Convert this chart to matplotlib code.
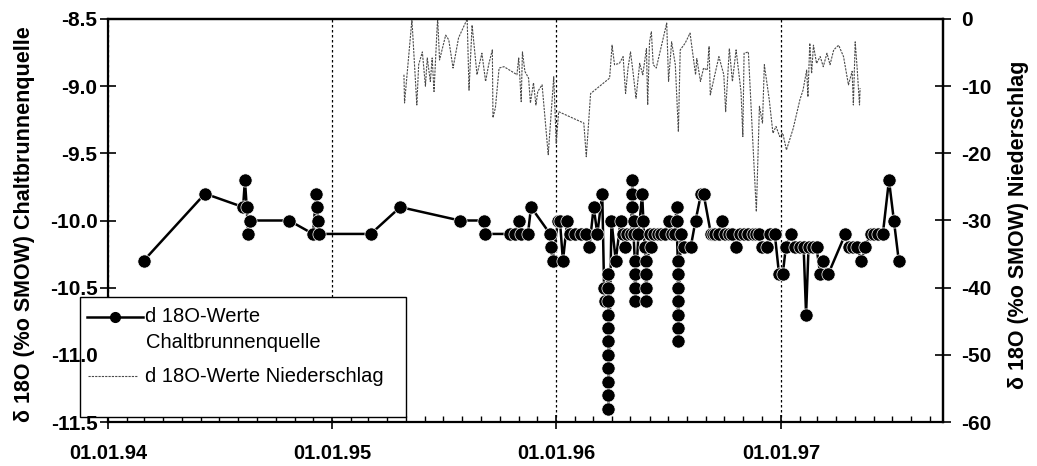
import numpy as np
import pandas as pd
import matplotlib
matplotlib.use('Agg')
import matplotlib.pyplot as plt
import matplotlib.dates as mdates
from matplotlib.ticker import FormatStrFormatter
from matplotlib.lines import Line2D
from matplotlib.patches import Rectangle

plt.rcParams['font.family'] = ['Liberation Sans', 'DejaVu Sans']
plt.rcParams['axes.unicode_minus'] = False

# d18O Chaltbrunnenquelle (linke Achse)
quelle_datum = [
    '1994-02-28', '1994-06-08', '1994-08-09', '1994-08-12', '1994-08-15', '1994-08-17', '1994-08-20',
    '1994-10-23', '1994-12-01', '1994-12-06', '1994-12-08', '1994-12-09', '1994-12-11',
    '1995-03-05', '1995-04-22', '1995-07-28', '1995-09-05', '1995-09-07', '1995-10-18', '1995-10-26',
    '1995-11-02', '1995-11-05', '1995-11-16', '1995-11-21', '1995-12-22', '1995-12-24', '1995-12-26',
    '1996-01-04', '1996-01-07', '1996-01-12', '1996-01-19', '1996-01-24', '1996-02-01', '1996-02-10',
    '1996-02-18', '1996-02-24', '1996-03-02', '1996-03-08', '1996-03-16', '1996-03-19', '1996-03-20',
    '1996-03-26', '1996-03-26', '1996-03-26', '1996-03-26', '1996-03-26', '1996-03-26',
    '1996-03-26', '1996-03-26', '1996-03-26', '1996-03-26', '1996-03-26',
    '1996-03-31', '1996-04-07', '1996-04-15', '1996-04-18', '1996-04-22', '1996-04-26', '1996-05-02',
    '1996-05-04', '1996-05-04', '1996-05-04', '1996-05-06', '1996-05-06',
    '1996-05-08', '1996-05-08', '1996-05-08', '1996-05-08',
    '1996-05-14', '1996-05-20', '1996-05-22', '1996-05-24',
    '1996-05-26', '1996-05-26', '1996-05-26', '1996-05-26',
    '1996-06-01', '1996-06-04', '1996-06-08', '1996-06-14', '1996-06-20', '1996-06-27',
    '1996-07-02', '1996-07-07', '1996-07-12', '1996-07-15', '1996-07-15',
    '1996-07-17', '1996-07-17', '1996-07-17', '1996-07-17', '1996-07-17', '1996-07-17', '1996-07-17',
    '1996-07-22', '1996-07-27', '1996-08-07', '1996-08-15', '1996-08-24', '1996-08-28',
    '1996-09-09', '1996-09-13', '1996-09-16', '1996-09-22', '1996-09-27', '1996-10-02', '1996-10-08',
    '1996-10-14', '1996-10-20', '1996-10-26', '1996-11-02', '1996-11-09', '1996-11-16', '1996-11-22',
    '1996-11-27', '1996-12-02', '1996-12-09', '1996-12-15', '1996-12-22', '1996-12-29',
    '1997-01-04', '1997-01-09', '1997-01-18', '1997-01-24', '1997-02-01', '1997-02-07', '1997-02-11',
    '1997-02-15', '1997-02-22', '1997-02-28', '1997-03-06', '1997-03-11', '1997-03-19',
    '1997-04-16', '1997-04-22', '1997-04-28', '1997-05-05', '1997-05-12', '1997-05-18', '1997-05-27',
    '1997-06-02', '1997-06-08', '1997-06-16', '1997-06-26', '1997-07-04', '1997-07-12',
]
quelle_d18o = [
    -10.3, -9.8, -9.9, -9.7, -9.9, -10.1, -10.0,
    -10.0, -10.1, -9.8, -9.9, -10.0, -10.1,
    -10.1, -9.9, -10.0, -10.0, -10.1, -10.1, -10.1,
    -10.0, -10.1, -10.1, -9.9, -10.1, -10.2, -10.3,
    -10.0, -10.0, -10.3, -10.0, -10.1, -10.1, -10.1,
    -10.1, -10.2, -9.9, -10.1, -9.8, -10.5, -10.6,
    -10.4, -10.5, -10.6, -10.7, -10.8, -10.9,
    -11.0, -11.1, -11.2, -11.3, -11.4,
    -10.0, -10.3, -10.0, -10.1, -10.2, -10.1, -10.1,
    -9.7, -9.8, -9.9, -10.0, -10.1,
    -10.3, -10.4, -10.5, -10.6,
    -10.1, -9.8, -10.0, -10.2,
    -10.3, -10.4, -10.5, -10.6,
    -10.1, -10.2, -10.1, -10.1, -10.1, -10.1,
    -10.0, -10.1, -10.1, -9.9, -10.0,
    -10.3, -10.4, -10.5, -10.6, -10.7, -10.8, -10.9,
    -10.1, -10.2, -10.2, -10.0, -9.8, -9.8,
    -10.1, -10.1, -10.1, -10.1, -10.0, -10.1, -10.1,
    -10.1, -10.2, -10.1, -10.1, -10.1, -10.1, -10.1,
    -10.1, -10.2, -10.2, -10.1, -10.1, -10.4,
    -10.4, -10.2, -10.1, -10.2, -10.2, -10.2, -10.7,
    -10.2, -10.2, -10.2, -10.4, -10.3, -10.4,
    -10.1, -10.2, -10.2, -10.2, -10.3, -10.2, -10.1,
    -10.1, -10.1, -10.1, -9.7, -10.0, -10.3,
]

# d18O Niederschlag (rechte Achse)
regen_datum = [
    '1995-04-28', '1995-04-29', '1995-05-11', '1995-05-19', '1995-05-22', '1995-05-28', '1995-06-02',
    '1995-06-05', '1995-06-10', '1995-06-13', '1995-06-16', '1995-06-21', '1995-06-22', '1995-06-25',
    '1995-07-05', '1995-07-10', '1995-07-17', '1995-07-26', '1995-08-09', '1995-08-12', '1995-08-17',
    '1995-08-25', '1995-09-02', '1995-09-08', '1995-09-13', '1995-09-19', '1995-09-20', '1995-09-24',
    '1995-09-30', '1995-10-08', '1995-10-24', '1995-10-29', '1995-11-01', '1995-11-05', '1995-11-07',
    '1995-11-11', '1995-11-17', '1995-11-20', '1995-11-25', '1995-11-29', '1995-12-02', '1995-12-09',
    '1995-12-19', '1995-12-28', '1996-01-01', '1996-01-05', '1996-02-15', '1996-02-19', '1996-02-26',
    '1996-03-28', '1996-04-01', '1996-04-05', '1996-04-13', '1996-04-19', '1996-04-23', '1996-04-27',
    '1996-05-01', '1996-05-05', '1996-05-10', '1996-05-16', '1996-05-21', '1996-05-27', '1996-05-29',
    '1996-06-01', '1996-06-04', '1996-06-07', '1996-06-12', '1996-06-29', '1996-07-02', '1996-07-07',
    '1996-07-13', '1996-07-18', '1996-07-21', '1996-07-29', '1996-08-06', '1996-08-15', '1996-08-17',
    '1996-08-23', '1996-08-28', '1996-09-03', '1996-09-06', '1996-09-08', '1996-09-22', '1996-09-30',
    '1996-10-03', '1996-10-09', '1996-10-14', '1996-10-20', '1996-10-28', '1996-10-31', '1996-11-02',
    '1996-11-09', '1996-11-15', '1996-11-22', '1996-11-27', '1996-12-02', '1996-12-05', '1996-12-13',
    '1996-12-19', '1996-12-24', '1996-12-30', '1997-01-04', '1997-01-10', '1997-01-21', '1997-02-01',
    '1997-02-06', '1997-02-12', '1997-02-14', '1997-02-17', '1997-02-20', '1997-02-23', '1997-02-28',
    '1997-03-06', '1997-03-11', '1997-03-17', '1997-03-22', '1997-03-28', '1997-04-05', '1997-04-13',
    '1997-04-21', '1997-04-27', '1997-04-29', '1997-05-02', '1997-05-05', '1997-05-09', '1997-05-10',
]
regen_d18o = [
    -8.3, -12.5, -0.1, -12.8, -6.8, -4.9, -10.0,
    -5.8, -9.3, -5.8, -10.8, -1.3, 0.0, -6.1,
    -2.4, -3.1, -7.3, -2.8, 0.0, -10.6, -0.9,
    -8.3, -5.1, -9.3, -6.8, -4.6, -14.7, -13.2,
    -7.3, -7.1, -8.0, -8.3, -5.8, -12.3, -4.9,
    -7.8, -8.8, -12.5, -9.5, -12.8, -10.8, -9.8,
    -20.2, -8.6, -18.5, -13.8, -15.5, -20.5, -11.1,
    -8.8, -3.9, -6.8, -6.6, -5.6, -11.1, -7.3,
    -4.9, -7.8, -11.8, -6.6, -8.3, -4.4, -12.8,
    -3.4, -1.9, -6.8, -7.3, -0.6, -9.3, -3.4,
    -6.8, -16.8, -4.6, -3.6, -2.1, -8.3, -5.9,
    -9.3, -7.3, -7.6, -4.1, -11.3, -5.6, -8.3,
    -13.8, -4.4, -9.3, -4.6, -10.8, -17.5, -5.1,
    -4.9, -16.0, -28.7, -13.0, -15.5, -6.8, -12.0,
    -17.0, -16.0, -17.5, -17.0, -19.5, -16.3, -12.0,
    -10.6, -7.6, -11.6, -3.6, -8.1, -3.9, -6.6,
    -5.6, -7.1, -5.1, -6.8, -4.6, -3.9, -5.6,
    -9.8, -7.8, -12.8, -3.4, -7.1, -12.8, -10.3,
]

W, H = 1037, 466
fig = plt.figure(figsize=(W / 100, H / 100), dpi=100)
ax = fig.add_axes([108 / W, 44 / H, 835 / W, 403 / H])
ax2 = ax.twinx()

ax.plot(pd.to_datetime(quelle_datum), quelle_d18o, color='black', lw=1.8,
        marker='o', ms=9.5, mfc='black', mec='white', mew=0.5, zorder=3)
ax2.plot(pd.to_datetime(regen_datum), regen_d18o, color='#4a4a4a', lw=0.8, ls=(0, (2, 1)))

ax.set_xlim(pd.Timestamp('1994-01-01'), pd.Timestamp('1997-09-22'))
ax.set_ylim(-11.5, -8.5)
ax2.set_ylim(-60, 0)

ax.xaxis.set_major_locator(mdates.YearLocator())
ax.xaxis.set_major_formatter(mdates.DateFormatter('%d.%m.%y'))
ax.xaxis.set_minor_locator(mdates.MonthLocator())
ax.set_yticks(np.arange(-11.5, -8.45, 0.5))
ax.yaxis.set_major_formatter(FormatStrFormatter('%.1f'))
ax2.set_yticks(np.arange(-60, 1, 10))

ax.grid(axis='x', which='major', color='black', lw=0.9, ls=(0, (2, 2)))

ax.tick_params(axis='x', which='major', direction='inout', length=10, width=1.2, pad=11, labelsize=14.5)
ax.tick_params(axis='x', which='minor', direction='in', length=4, width=1.0)
ax.tick_params(axis='y', direction='inout', length=12, width=1.2, pad=1.5, labelsize=15)
ax2.tick_params(axis='y', direction='inout', length=12, width=1.2, pad=7, labelsize=15)
for lab in ax.get_xticklabels() + ax.get_yticklabels() + ax2.get_yticklabels():
    lab.set_fontweight('bold')

for s in ax.spines.values():
    s.set_linewidth(1.6)
for side in ('left', 'bottom'):
    ax2.spines[side].set_visible(False)
for side in ('right', 'top'):
    ax2.spines[side].set_linewidth(1.6)

ax.set_ylabel('δ 18O (%o SMOW) Chaltbrunnenquelle', fontsize=15.5, fontweight='bold')
ax2.set_ylabel('δ 18O (%o SMOW) Niederschlag', fontsize=15.5, fontweight='bold')
ax.yaxis.set_label_coords(-0.088, 0.49)
ax2.yaxis.set_label_coords(1.078, 0.49)

# Legende von Hand: Kasten ueber Spines und Gitter, aber unter den Achsbeschriftungen
def fx(px):
    return px / W

def fy(py):
    return 1 - py / H

ax.yaxis.set_zorder(3)
# Tickstrich bei -11.0 liegt im Legendenkasten
ax.yaxis.get_major_ticks()[1].tick1line.set_visible(False)

ax.add_artist(Rectangle((fx(80), fy(417)), fx(406) - fx(80), fy(297) - fy(417),
                        transform=fig.transFigure, facecolor='white', edgecolor='black',
                        lw=1.0, zorder=2.6, clip_on=False))
ax.add_artist(Line2D([fx(87), fx(115), fx(143)], [fy(317)] * 3, transform=fig.transFigure,
                     color='black', lw=1.8, marker='o', ms=7, markevery=[1], zorder=2.7,
                     clip_on=False))
ax.add_artist(Line2D([fx(88), fx(138)], [fy(376)] * 2, transform=fig.transFigure,
                     color='#4a4a4a', lw=0.8, ls=(0, (2, 1)), zorder=2.7, clip_on=False))
for px, py, txt in [(145, 317, 'd 18O-Werte'), (146, 342, 'Chaltbrunnenquelle'),
                    (145, 377, 'd 18O-Werte Niederschlag')]:
    ax.text(fx(px), fy(py), txt, transform=fig.transFigure, va='center', fontsize=14.5,
            zorder=2.7, clip_on=False)

fig.savefig('out.png', dpi=100)
